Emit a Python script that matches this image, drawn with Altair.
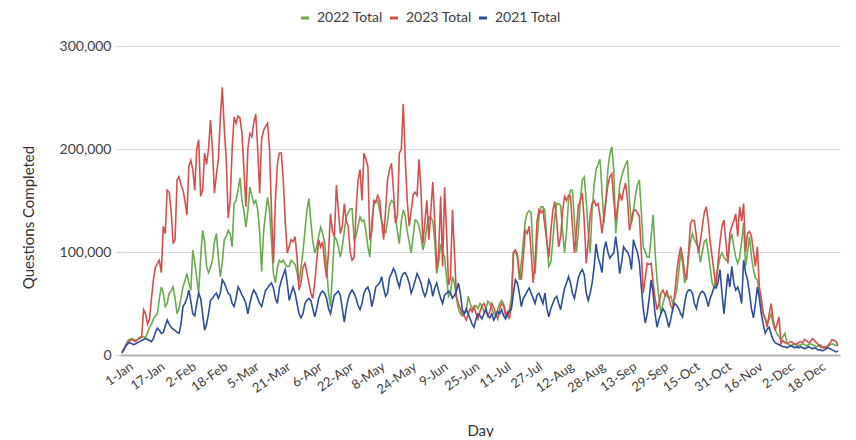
import altair as alt
import pandas as pd

series_names = ["2022 Total", "2023 Total", "2021 Total"]
series_colors = ["#6aab4f", "#d4504e", "#2d4e9a"]

tick_days = [0, 16, 32, 48, 64, 80, 96, 112, 128, 144, 160, 176, 192, 208, 224, 240, 256, 272, 288, 304, 320, 336, 352]
tick_labels = ["1-Jan", "17-Jan", "2-Feb", "18-Feb", "5-Mar", "21-Mar", "6-Apr", "22-Apr", "8-May", "24-May",
               "9-Jun", "25-Jun", "11-Jul", "27-Jul", "12-Aug", "28-Aug", "13-Sep", "29-Sep", "15-Oct",
               "31-Oct", "16-Nov", "2-Dec", "18-Dec"]
y_ticks = [0, 100000, 200000, 300000]

# daily values, thousands of questions (day index 0 = 1-Jan)
v2022 = [
    2, 6, 10, 14, 15, 16, 15, 14, 15, 16,
    17, 18, 17, 22, 27, 30, 35, 38, 40, 55,
    66, 60, 47, 50, 60, 62, 66, 55, 40, 45,
    55, 66, 72, 79, 70, 63, 102, 90, 75, 60,
    95, 121, 110, 86, 80, 85, 92, 110, 118, 95,
    76, 90, 112, 115, 121, 118, 105, 147, 150, 160,
    172, 150, 140, 124, 140, 163, 155, 147, 150, 141,
    120, 81, 120, 137, 153, 140, 110, 79, 70, 85,
    92, 90, 92, 88, 86, 86, 92, 90, 88, 80,
    70, 85, 100, 120, 140, 152, 130, 110, 99, 105,
    115, 124, 118, 110, 86, 60, 47, 80, 115, 112,
    105, 95, 105, 120, 134, 138, 142, 142, 112, 115,
    125, 134, 130, 131, 120, 105, 95, 130, 145, 150,
    150, 140, 130, 125, 118, 130, 145, 150, 148, 135,
    120, 108, 130, 141, 135, 120, 110, 99, 115, 131,
    130, 125, 115, 102, 110, 125, 134, 134, 130, 110,
    79, 90, 108, 100, 95, 75, 57, 60, 76, 70,
    55, 45, 40, 38, 40, 42, 57, 50, 45, 47,
    48, 45, 50, 48, 42, 45, 52, 50, 45, 40,
    38, 45, 50, 53, 50, 42, 38, 45, 55, 99,
    100, 95, 73, 90, 110, 130, 138, 140, 138, 100,
    79, 110, 135, 144, 144, 140, 110, 86, 90, 110,
    135, 147, 147, 145, 120, 99, 120, 150, 160, 160,
    130, 100, 120, 150, 170, 173, 150, 120, 99, 140,
    165, 180, 185, 190, 160, 128, 150, 180, 195, 202,
    180, 118, 140, 165, 173, 180, 185, 189, 150, 128,
    140, 155, 165, 170, 140, 105, 100, 95, 95, 115,
    136, 100, 73, 55, 40, 50, 57, 58, 55, 57,
    50, 55, 63, 80, 99, 90, 70, 75, 95, 110,
    118, 112, 108, 105, 90, 100, 110, 112, 100, 85,
    70, 66, 75, 85, 95, 99, 95, 92, 92, 110,
    118, 105, 95, 89, 95, 110, 128, 86, 100, 115,
    95, 83, 75, 73, 60, 50, 40, 35, 31, 35,
    40, 30, 25, 20, 18, 15, 18, 21, 12, 10,
    9, 10, 11, 10, 9, 10, 11, 10, 9, 10,
    11, 10, 9, 8, 9, 10, 8, 7, 8, 9,
    10, 11, 10, 9, 10,
]

v2023 = [
    2, 5, 9, 12, 14, 15, 14, 13, 15, 17,
    18, 44, 40, 30, 35, 55, 73, 85, 89, 92,
    80, 125, 118, 160, 158, 140, 108, 112, 170, 173,
    165, 160, 150, 136, 183, 189, 180, 160, 200, 209,
    154, 160, 196, 185, 200, 228, 200, 157, 175, 190,
    230, 260, 220, 190, 133, 150, 200, 231, 225, 232,
    230, 215, 180, 144, 200, 215, 212, 225, 234, 200,
    157, 210, 218, 222, 225, 200, 140, 89, 150, 185,
    196, 196, 170, 130, 99, 105, 112, 110, 115, 95,
    63, 70, 85, 89, 80, 70, 60, 55, 70, 92,
    112, 105, 110, 90, 75, 100, 137, 120, 115, 165,
    140, 118, 125, 147, 130, 125, 100, 92, 95, 140,
    170, 180, 150, 196, 190, 183, 112, 120, 150, 148,
    155, 150, 130, 112, 140, 170, 180, 186, 160, 128,
    135, 196, 200, 244, 190, 150, 125, 140, 155, 158,
    155, 190, 160, 108, 130, 150, 112, 140, 168, 130,
    83, 100, 154, 86, 163, 120, 68, 75, 141, 100,
    57, 50, 45, 40, 38, 34, 40, 45, 42, 47,
    40, 35, 42, 48, 50, 45, 38, 42, 50, 46,
    40, 35, 45, 50, 48, 38, 42, 35, 50, 100,
    102, 98, 80, 73, 95, 121, 118, 125, 100, 70,
    90, 130, 141, 138, 141, 125, 110, 95, 120, 140,
    149, 130, 105, 115, 140, 154, 150, 155, 154, 125,
    99, 120, 145, 150, 157, 130, 89, 110, 135, 147,
    150, 145, 147, 135, 118, 135, 150, 165, 173, 176,
    150, 131, 145, 157, 150, 160, 167, 150, 121, 130,
    140, 141, 138, 135, 100, 60, 75, 89, 88, 89,
    70, 55, 44, 50, 60, 63, 58, 62, 55, 48,
    44, 60, 80, 95, 105, 95, 80, 73, 100, 128,
    131, 130, 115, 99, 110, 125, 138, 144, 130, 110,
    95, 80, 66, 90, 110, 125, 131, 110, 89, 118,
    125, 130, 137, 115, 144, 130, 147, 100, 118, 120,
    115, 100, 86, 105, 66, 55, 40, 35, 27, 40,
    50, 35, 24, 30, 37, 11, 14, 12, 11, 12,
    13, 12, 10, 11, 12, 13, 12, 15, 14, 12,
    13, 16, 14, 12, 10, 8, 7, 8, 7, 9,
    12, 15, 14, 13, 9,
]

v2021 = [
    2, 6, 9, 11, 12, 11, 10, 11, 12, 13,
    14, 15, 16, 15, 14, 13, 16, 22, 26, 24,
    21, 22, 28, 34, 30, 27, 25, 24, 22, 21,
    30, 47, 50, 55, 63, 52, 40, 38, 50, 60,
    55, 40, 24, 30, 40, 53, 55, 58, 60, 55,
    60, 73, 70, 65, 60, 58, 50, 47, 55, 66,
    63, 58, 55, 50, 40, 50, 58, 63, 60, 55,
    50, 47, 55, 63, 65, 68, 70, 65, 55, 50,
    65, 72, 78, 83, 70, 53, 60, 66, 60, 50,
    40, 36, 40, 50, 53, 55, 53, 45, 37, 45,
    55, 60, 62, 60, 55, 45, 40, 50, 58, 60,
    62, 58, 45, 32, 45, 55, 60, 63, 60, 55,
    48, 44, 50, 60, 64, 66, 60, 47, 55, 66,
    68, 70, 76, 65, 57, 60, 75, 79, 84, 80,
    72, 66, 75, 79, 80, 76, 70, 60, 65, 72,
    79, 75, 70, 62, 57, 62, 73, 68, 57, 65,
    70, 62, 55, 50, 58, 60, 62, 60, 55, 58,
    62, 70, 60, 44, 40, 45, 40, 35, 30, 27,
    35, 40, 38, 35, 40, 44, 38, 36, 40, 34,
    38, 42, 40, 44, 38, 35, 40, 42, 45, 60,
    73, 70, 60, 47, 55, 58, 62, 65, 60, 55,
    50, 58, 60, 55, 50, 60, 45, 37, 45, 50,
    55, 57, 50, 44, 55, 65, 70, 76, 70, 60,
    55, 65, 75, 80, 83, 78, 60, 53, 60, 70,
    85, 108, 95, 89, 80, 102, 110, 100, 94, 97,
    99, 115, 100, 79, 90, 105, 102, 100, 95, 83,
    112, 105, 100, 90, 66, 45, 31, 40, 55, 73,
    60, 40, 27, 35, 40, 45, 42, 35, 27, 35,
    45, 50, 48, 45, 40, 37, 50, 60, 63, 63,
    60, 50, 45, 55, 60, 62, 60, 55, 47, 55,
    60, 66, 65, 70, 83, 60, 40, 60, 79, 66,
    86, 70, 63, 66, 60, 50, 92, 80, 73, 60,
    45, 36, 50, 66, 55, 40, 30, 21, 25, 27,
    20, 15, 12, 11, 10, 9, 8, 8, 7, 8,
    9, 8, 7, 8, 7, 8, 7, 6, 7, 8,
    7, 6, 7, 6, 5, 5, 4, 5, 6, 7,
    6, 5, 4, 3, 4,
]

rows = []
for name, vals in zip(series_names, [v2022, v2023, v2021]):
    for d, v in enumerate(vals):
        rows.append({"day": d, "value": v * 1000, "series": name})
df = pd.DataFrame(rows)

label_array = "[" + ",".join("'" + t + "'" for t in tick_labels) + "]"
label_expr = label_array + "[round(datum.value / 16)]"

FONT = "Lato"

x_enc = alt.X(
    "day:Q",
    scale=alt.Scale(domain=[-1, 365], nice=False, zero=False),
    axis=alt.Axis(
        values=tick_days, labelExpr=label_expr, labelAngle=-35, labelAlign="right",
        labelBaseline="top", labelFont=FONT, labelFontSize=13, labelColor="#404040",
        labelPadding=5, labelOffset=6, labelOverlap=False, labelFlush=False,
        ticks=False, grid=False, domainColor="#b3b3b3", domainWidth=2,
        title="Day", titleFont=FONT, titleFontSize=15, titleFontWeight="normal",
        titleColor="#333333", titleX=360, titleY=68, titleBaseline="top",
    ),
)
y_enc = alt.Y(
    "value:Q",
    scale=alt.Scale(domain=[0, 300000], nice=False),
    axis=alt.Axis(
        values=y_ticks, format=",.0f", grid=True, gridColor="#d9d9d9", gridWidth=1,
        domain=False, ticks=True, tickColor="#d9d9d9", tickSize=5,
        labelFont=FONT, labelFontSize=14, labelColor="#404040", labelPadding=4,
        title="Questions Completed", titleFont=FONT, titleFontSize=15,
        titleFontWeight="normal", titleColor="#333333", titleX=-84, titleY=171,
    ),
)
color_enc = alt.Color(
    "series:N",
    scale=alt.Scale(domain=series_names, range=series_colors),
    legend=alt.Legend(
        orient="none", legendX=178, legendY=-35, direction="horizontal", title=None,
        symbolType="stroke", symbolStrokeWidth=3, symbolSize=64, labelFont=FONT,
        labelFontSize=14, labelColor="#404040", columnPadding=1, labelOffset=5, padding=0,
    ),
)

layers = [
    alt.Chart(df).transform_filter(alt.datum.series == name)
    .mark_line(strokeWidth=1.6, interpolate="linear")
    .encode(x=x_enc, y=y_enc, color=color_enc)
    for name in series_names
]

chart = (
    alt.layer(*layers)
    .properties(width=720, height=309, autosize="none",
                padding={"left": 112, "top": 38, "right": 8, "bottom": 82},
                background="white")
    .configure_view(stroke="transparent")
)

chart.save("out.html", embed_options={"renderer": "svg", "actions": False})
